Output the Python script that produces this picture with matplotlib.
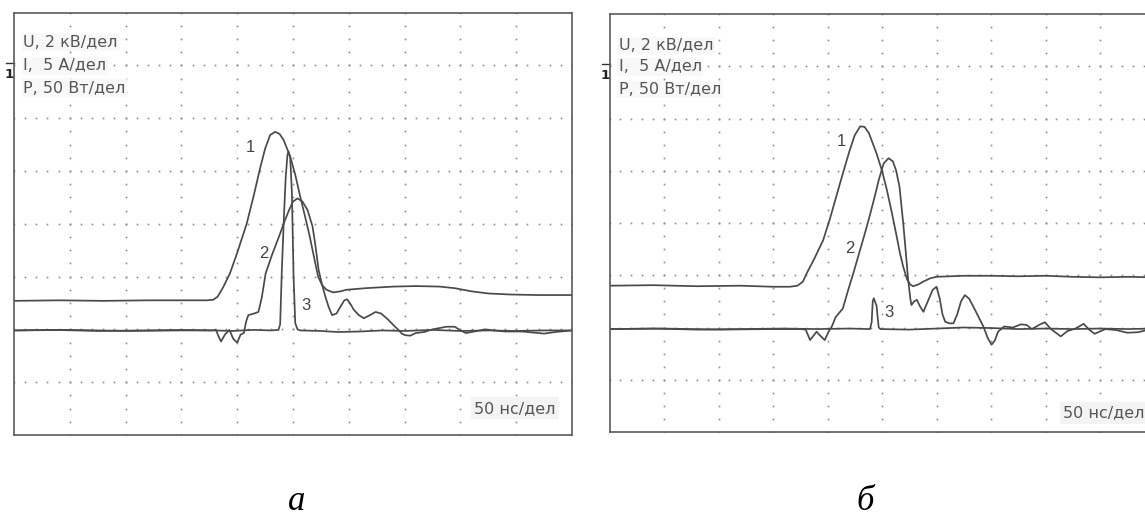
import numpy as np
import matplotlib.pyplot as plt

plt.rcParams["font.family"] = ["DejaVu Sans"]

# oscillograms, time in divisions (50 ns/div), amplitude in divisions
# panel "а"
a_u = [(0, 2.54), (0.8, 2.55), (1.6, 2.54), (2.4, 2.55), (3.0, 2.55), (3.45, 2.55),
       (3.57, 2.56), (3.65, 2.62), (3.75, 2.80), (3.87, 3.06), (4.0, 3.45), (4.17, 4.0),
       (4.30, 4.55), (4.41, 5.05), (4.50, 5.42), (4.59, 5.68), (4.68, 5.74), (4.76, 5.70),
       (4.83, 5.59), (4.95, 5.27), (5.04, 4.93), (5.13, 4.51), (5.22, 4.12), (5.30, 3.76),
       (5.38, 3.35), (5.45, 3.0), (5.52, 2.84), (5.60, 2.75), (5.72, 2.70), (5.85, 2.72),
       (5.96, 2.75), (6.3, 2.78), (6.8, 2.81), (7.2, 2.82), (7.63, 2.81), (7.9, 2.78),
       (8.2, 2.72), (8.5, 2.68), (8.9, 2.66), (9.4, 2.65), (10, 2.65)]
a_i = [(0, 1.98), (1.0, 1.99), (2.0, 1.97), (3.0, 1.98), (3.55, 1.98), (3.62, 1.99),
       (3.66, 1.88), (3.71, 1.77), (3.78, 1.90), (3.86, 1.99), (3.93, 1.82), (4.00, 1.75),
       (4.06, 1.90), (4.12, 1.93), (4.16, 2.15), (4.20, 2.27), (4.30, 2.30), (4.38, 2.33),
       (4.44, 2.60), (4.51, 3.06), (4.62, 3.40), (4.75, 3.76), (4.85, 4.05), (4.93, 4.26),
       (5.00, 4.42), (5.08, 4.48), (5.17, 4.42), (5.26, 4.26), (5.35, 3.95), (5.40, 3.60),
       (5.46, 3.12), (5.52, 2.85), (5.58, 2.62), (5.64, 2.42), (5.70, 2.27), (5.78, 2.30),
       (5.85, 2.43), (5.92, 2.55), (5.97, 2.57), (6.03, 2.48), (6.09, 2.37), (6.18, 2.27),
       (6.27, 2.21), (6.38, 2.27), (6.48, 2.33), (6.58, 2.30), (6.71, 2.18), (6.80, 2.08),
       (6.89, 1.99), (6.95, 1.92), (7.01, 1.89), (7.1, 1.88), (7.2, 1.93), (7.35, 1.95),
       (7.5, 2.0), (7.6, 2.02), (7.75, 2.05), (7.9, 2.05), (8.0, 1.98), (8.1, 1.93),
       (8.3, 1.97), (8.45, 2.0), (8.6, 1.98), (8.8, 1.96), (9.1, 1.96), (9.3, 1.94),
       (9.5, 1.92), (9.7, 1.95), (10, 1.98)]
a_p = [(0, 1.98), (0.7, 1.99), (1.5, 1.97), (2.3, 1.98), (3.0, 1.99), (3.6, 1.98),
       (3.9, 1.97), (4.3, 1.99), (4.6, 1.98), (4.74, 1.99), (4.77, 2.1), (4.80, 3.12),
       (4.84, 4.2), (4.87, 4.89), (4.90, 5.30), (4.92, 5.37), (4.95, 5.25), (4.98, 4.6),
       (5.01, 3.0), (5.04, 2.12), (5.08, 2.0), (5.13, 1.98), (5.5, 1.97), (5.8, 1.95),
       (6.2, 1.96), (6.6, 1.98), (7.0, 1.97), (7.5, 1.99), (8.0, 1.97), (8.5, 1.98),
       (9.0, 1.97), (9.5, 1.98), (10, 1.98)]

# panel "б"
b_u = [(0, 2.80), (0.8, 2.81), (1.6, 2.79), (2.4, 2.80), (3.0, 2.78), (3.31, 2.78),
       (3.45, 2.80), (3.55, 2.88), (3.62, 3.04), (3.75, 3.30), (3.92, 3.67), (4.05, 4.10),
       (4.23, 4.76), (4.33, 5.12), (4.41, 5.40), (4.50, 5.68), (4.60, 5.85), (4.68, 5.84),
       (4.76, 5.72), (4.90, 5.33), (5.0, 5.0), (5.09, 4.63), (5.18, 4.20), (5.27, 3.74),
       (5.33, 3.42), (5.39, 3.16), (5.46, 2.92), (5.52, 2.82), (5.57, 2.79), (5.66, 2.82),
       (5.76, 2.88), (5.88, 2.94), (6.0, 2.97), (6.5, 2.99), (7.0, 2.99), (7.5, 2.98),
       (8.0, 2.99), (8.5, 2.97), (9.0, 2.96), (9.5, 2.97), (10, 2.96)]
b_i = [(0, 1.97), (1, 1.98), (2, 1.96), (3, 1.97), (3.5, 1.97), (3.6, 1.96),
       (3.68, 1.76), (3.74, 1.84), (3.80, 1.92), (3.86, 1.85), (3.95, 1.76), (4.02, 1.92),
       (4.08, 2.02), (4.15, 2.20), (4.23, 2.30), (4.28, 2.36), (4.38, 2.72), (4.48, 3.06),
       (4.58, 3.42), (4.68, 3.78), (4.77, 4.12), (4.86, 4.48), (4.94, 4.82), (5.03, 5.14),
       (5.12, 5.24), (5.20, 5.18), (5.26, 5.0), (5.32, 4.70), (5.39, 3.99), (5.44, 3.40),
       (5.48, 2.91), (5.52, 2.55), (5.54, 2.43), (5.59, 2.50), (5.64, 2.53), (5.70, 2.40),
       (5.76, 2.30), (5.84, 2.50), (5.93, 2.72), (6.0, 2.78), (6.06, 2.55), (6.11, 2.25),
       (6.16, 2.11), (6.24, 2.08), (6.31, 2.08), (6.38, 2.25), (6.45, 2.50), (6.52, 2.62),
       (6.60, 2.55), (6.71, 2.33), (6.86, 2.02), (6.94, 1.80), (7.01, 1.67), (7.07, 1.75),
       (7.13, 1.92), (7.24, 2.02), (7.4, 2.0), (7.55, 2.06), (7.65, 2.05), (7.75, 1.97),
       (7.9, 2.06), (7.99, 2.10), (8.1, 1.97), (8.28, 1.83), (8.4, 1.93), (8.55, 1.98),
       (8.70, 2.07), (8.8, 1.96), (8.9, 1.88), (9.1, 1.97), (9.3, 1.95), (9.5, 1.90),
       (9.7, 1.91), (9.9, 1.96), (10, 1.98)]
b_p = [(0, 1.97), (0.8, 1.98), (1.6, 1.96), (2.4, 1.97), (3.2, 1.98), (3.8, 1.97),
       (4.4, 1.98), (4.78, 1.97), (4.81, 2.1), (4.83, 2.50), (4.85, 2.56), (4.88, 2.47),
       (4.90, 2.42), (4.92, 2.2), (4.94, 2.0), (4.97, 1.97), (5.5, 1.96), (6.0, 1.98),
       (6.5, 2.0), (7.0, 1.99), (7.5, 1.97), (8.0, 1.98), (8.5, 1.97), (9.0, 1.98),
       (9.5, 1.97), (10, 1.98)]

scale_labels = ["U, 2 кВ/дел", "I,  5 А/дел", "P, 50 Вт/дел"]
time_label = "50 нс/дел"
trace_names = ["1", "2", "3"]

# label positions per panel (divisions)
a_name_pos = [(4.24, 5.45), (4.47, 3.44), (5.23, 2.46)]
b_name_pos = [(4.26, 5.56), (4.41, 3.52), (5.13, 2.28)]

TRACE = "#4a4a4a"
TEXT = "#555555"


def draw_panel(ax, traces, name_pos, head_y, time_pos):
    ax.set_xlim(0, 10)
    ax.set_ylim(0, 8)
    ax.set_xticks([])
    ax.set_yticks([])
    for s in ax.spines.values():
        s.set_color("#5a5a5a")
        s.set_linewidth(1.2)

    # dotted graticule
    xs = np.arange(0, 10.001, 0.2)
    for k in range(1, 8):
        ax.plot(xs, np.full_like(xs, k), ls="none", marker="s", ms=1.2,
                mew=0, color="#8c8c8c")
    ys = np.arange(0, 8.001, 0.25)
    for j in range(1, 10):
        ax.plot(np.full_like(ys, j), ys, ls="none", marker="s", ms=1.2,
                mew=0, color="#8c8c8c")

    for tr in traces:
        t, v = zip(*tr)
        ax.plot(t, v, color=TRACE, lw=1.25)

    for name, (x, y) in zip(trace_names, name_pos):
        ax.text(x, y, name, fontsize=12, color="#444444", ha="center",
                va="center", family="Liberation Sans")

    for lab, y in zip(scale_labels, head_y):
        ax.text(0.17, y, lab, fontsize=11.5, color=TEXT, va="baseline",
                bbox=dict(fc="#f8f8f8", ec="none", pad=1.0))

    ax.text(time_pos[0], time_pos[1], time_label, fontsize=11.5, color=TEXT,
            va="baseline", bbox=dict(fc="#f3f3f3", ec="none", pad=2.5))

    # channel 1 marker at the left edge
    ax.plot([-0.14, 0], [7.05, 7.05], color="#333333", lw=1.0, clip_on=False)
    ax.text(-0.08, 6.95, "1", fontsize=9.5, weight="bold", color="#222222",
            ha="center", va="top", clip_on=False)


fig = plt.figure(figsize=(11.45, 5.19), dpi=100)
ax_a = fig.add_axes([14 / 1145, 84 / 519, 558 / 1145, 422.5 / 519])
ax_b = fig.add_axes([609.5 / 1145, 87 / 519, 545 / 1145, 418 / 519])

draw_panel(ax_a, [a_u, a_i, a_p], a_name_pos, [7.35, 6.91, 6.48], (8.25, 0.42))
draw_panel(ax_b, [b_u, b_i, b_p], b_name_pos, [7.31, 6.90, 6.47], (8.33, 0.28))

fig.text(297 / 1145, 9 / 519, "а", fontsize=25, style="italic",
         family="Liberation Serif", ha="center", va="baseline")
fig.text(865 / 1145, 9 / 519, "б", fontsize=25, style="italic",
         family="Liberation Serif", ha="center", va="baseline")

fig.savefig("out.png", dpi=100)
